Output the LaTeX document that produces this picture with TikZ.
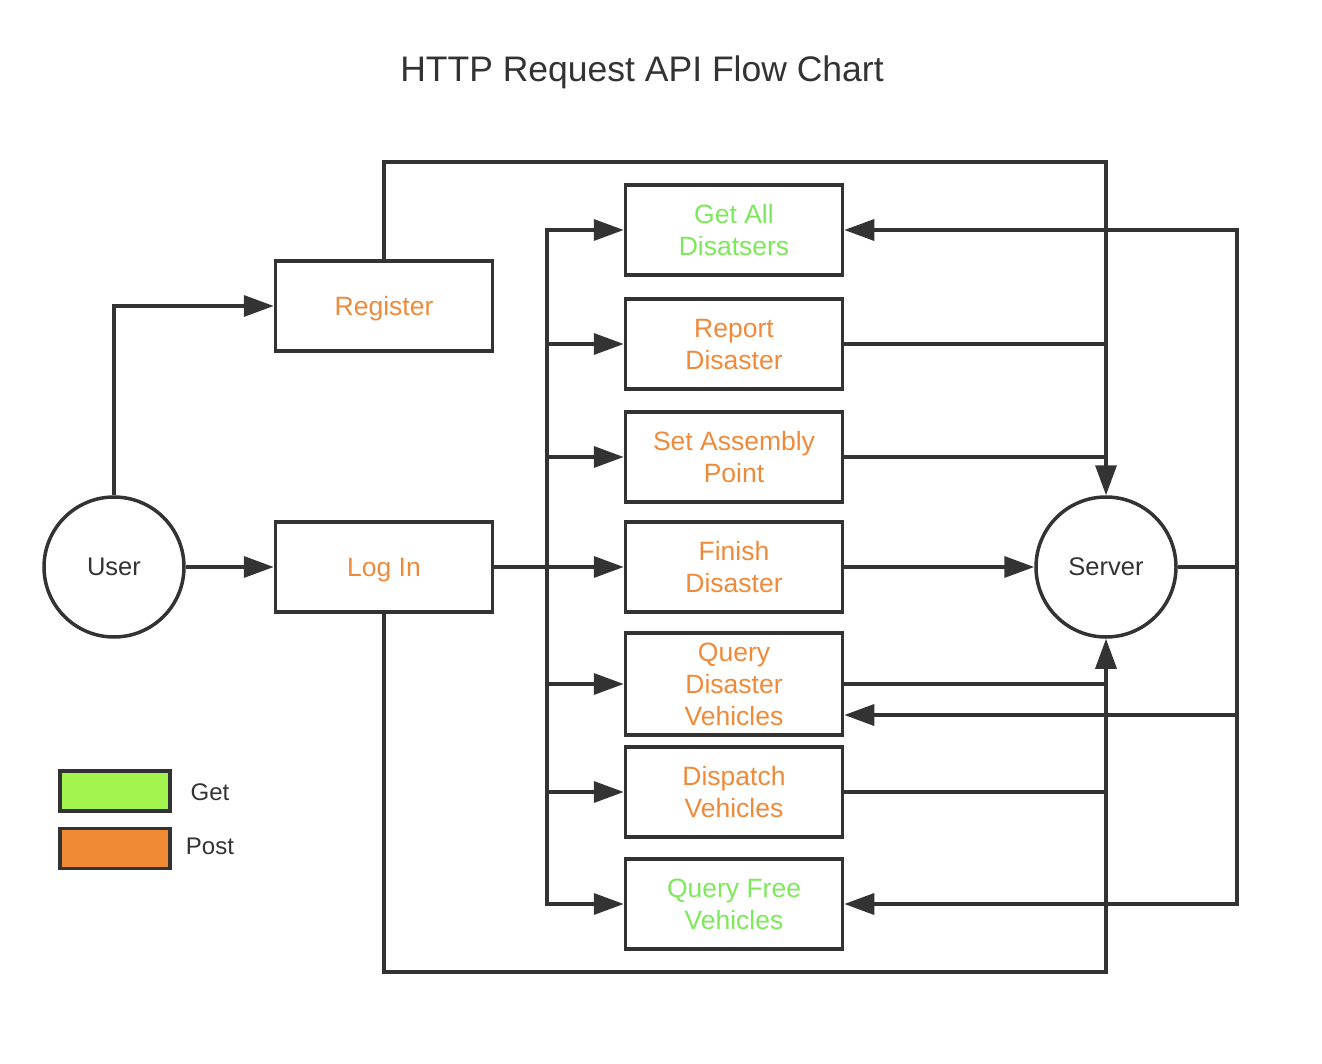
\documentclass[tikz,border=0pt]{standalone}
\usepackage{fontspec}
\setmainfont{Liberation Sans}
\usetikzlibrary{arrows.meta, positioning, calc}
\definecolor{linegray}{HTML}{333333}
\definecolor{postorange}{HTML}{EE8A3A}
\definecolor{getgreen}{HTML}{7DE85A}
\definecolor{getfill}{HTML}{A2F54E}
\definecolor{postfill}{HTML}{F08A35}
\tikzset{
>={Triangle[length=30pt,width=21pt]}, % big solid arrow heads
flow/.style={draw=linegray, line width=3.5pt}, % every connector
api/.style={draw=linegray, line width=3.5pt, minimum width=217pt, minimum height=90pt,
  align=center, inner sep=0pt, text depth=0pt, font=\fontsize{26.5}{32}\selectfont}, % request boxes
getapi/.style={api, text=getgreen},
postapi/.style={api, text=postorange},
actor/.style={circle, draw=linegray, line width=3.5pt, minimum size=140pt, inner sep=0pt,
  text=linegray, font=\fontsize{25.5}{32}\selectfont}, % user and server
legbox/.style={draw=linegray, line width=3.5pt, minimum width=110pt, minimum height=40pt},
}

\begin{document}
\begin{tikzpicture}[x=1pt,y=-1pt,line join=miter]
\useasboundingbox (0,0) rectangle (1322,1064);
\node[text=linegray, font=\fontsize{35.5}{40}\selectfont] (title) at (642,72) {HTTP Request API Flow Chart};
% actors
\node[actor] (user) at (114,567) {User};
\node[actor] (server) at (1106,567) {Server};
% entry boxes
\node[postapi] (register) at (384,306) {Register};
\node[postapi] (login) at (384,567) {Log In};
% requests
\node[getapi] (getall) at (734,230) {Get All\\Disatsers};
\node[postapi] (report) at (734,344) {Report\\Disaster};
\node[postapi] (assembly) at (734,457) {Set Assembly\\Point};
\node[postapi] (finish) at (734,567) {Finish\\Disaster};
\node[postapi, minimum height=102pt] (query) at (734,684) {Query\\Disaster\\Vehicles};
\node[postapi] (dispatch) at (734,792) {Dispatch\\Vehicles};
\node[getapi] (free) at (734,904) {Query Free\\Vehicles};
% rails
\coordinate (toprail) at (0,162);
\coordinate (botrail) at (0,972);
\coordinate (lbus) at (547,0);
\coordinate (rbus) at (1237,0);
% user side
\draw[flow,->] (user.north) |- (register.west);
\draw[flow,->] (user) -- (login);
\draw[flow,->] (register.north) |- (server |- toprail) -- (server.north);
\draw[flow,->] (login.south) |- (server |- botrail) -- (server.south);
% left bus
\draw[flow,->] (login.east) -- (finish.west);
\draw[flow,->] (lbus |- free.west) |- (getall.west);
\draw[flow,->] (lbus |- getall.west) |- (free.west);
\foreach \b in {report,assembly,query,dispatch}
  \draw[flow,->] (lbus |- \b.west) -- (\b.west);
% to server
\foreach \b in {report,assembly,query,dispatch}
  \draw[flow] (\b.east) -- (\b.east -| server);
\draw[flow,->] (finish.east) -- (server.west);
% right bus
\draw[flow] (server.east) -- (rbus |- server);
\draw[flow,->] (rbus |- free.east) |- (getall.east);
\draw[flow,->] (rbus |- getall.east) |- (free.east);
\draw[flow,->] (rbus |- 0,715) -- ($(query.east)+(0,31)$);
% legend
\node[legbox, fill=getfill] (getkey) at (115,791) {};
\node[legbox, fill=postfill, below=14pt of getkey] (postkey) {};
\node[text=linegray, font=\fontsize{24}{30}\selectfont] (getlabel) at (210,792) {Get};
\node[text=linegray, font=\fontsize{24}{30}\selectfont] (postlabel) at (210,846) {Post};
\end{tikzpicture}
\end{document}
